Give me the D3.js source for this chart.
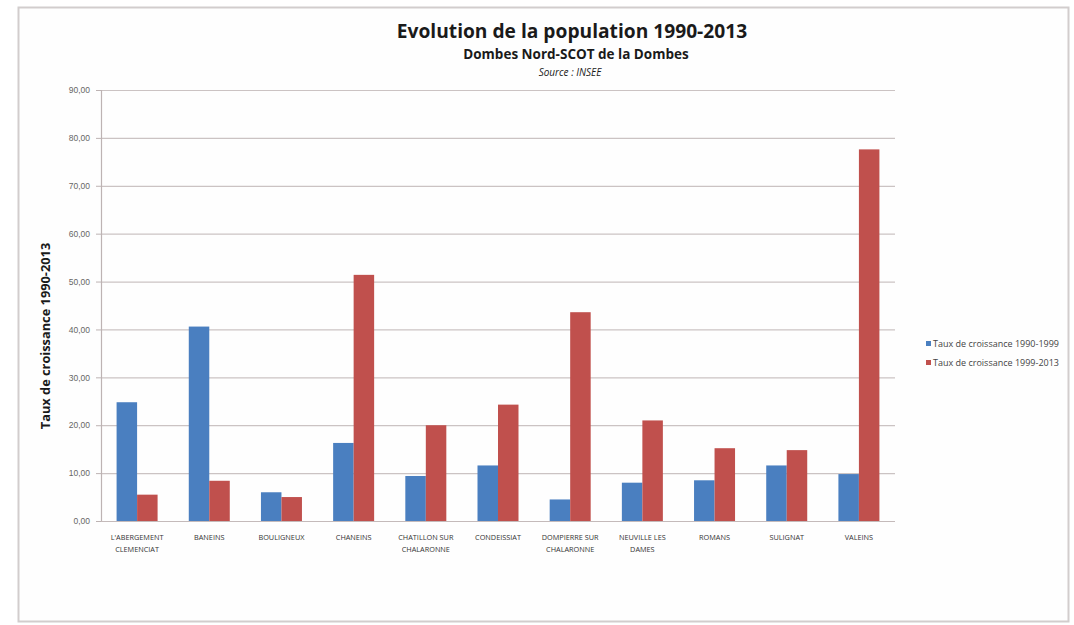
<!DOCTYPE html>
<html>
<head>
<meta charset="utf-8">
<script src="https://cdn.jsdelivr.net/npm/d3@7"></script>
<style>
  body { margin: 0; background: #fff; }
  svg { display: block; font-family: "Open Sans", sans-serif; }
</style>
</head>
<body>
<svg id="chart" width="1074" height="625"></svg>
<script>
const communes = [
  ["L'ABERGEMENT", 'CLEMENCIAT'],
  ['BANEINS'],
  ['BOULIGNEUX'],
  ['CHANEINS'],
  ['CHATILLON SUR', 'CHALARONNE'],
  ['CONDEISSIAT'],
  ['DOMPIERRE SUR', 'CHALARONNE'],
  ['NEUVILLE LES', 'DAMES'],
  ['ROMANS'],
  ['SULIGNAT'],
  ['VALEINS']
];
const taux1990_1999 = [24.8, 40.6, 6.0, 16.3, 9.4, 11.6, 4.5, 8.0, 8.5, 11.6, 9.8];
const taux1999_2013 = [5.5, 8.4, 5.0, 51.4, 20.0, 24.3, 43.6, 21.0, 15.2, 14.8, 77.6];
const seriesNames = ['Taux de croissance 1990-1999', 'Taux de croissance 1999-2013'];
const yTicks = [0, 10, 20, 30, 40, 50, 60, 70, 80, 90];

const colors = ['#4a7fc0', '#c0504d'];
const svg = d3.select('#chart');

// chart frame
svg.append('rect')
  .attr('x', 18.5).attr('y', 7.5)
  .attr('width', 1050).attr('height', 614)
  .attr('fill', '#fefefe')
  .attr('stroke', '#d2cdcd')
  .attr('stroke-width', 2);

const margin = { top: 90, left: 101, right: 179, bottom: 104 };
const width = 1074 - margin.left - margin.right;
const height = 625 - margin.top - margin.bottom;
const g = svg.append('g').attr('transform', `translate(${margin.left},${margin.top})`);

const x0 = d3.scaleBand().domain(d3.range(communes.length)).range([0, width]);
const x1 = d3.scaleBand().domain([0, 1]).range([x0.bandwidth() / 2 - 20.5, x0.bandwidth() / 2 + 20.5]);
const y = d3.scaleLinear().domain([0, 90]).range([height, 0]);

// gridlines
g.append('g')
  .selectAll('line')
  .data(yTicks.slice(1))
  .join('line')
  .attr('x1', 0).attr('x2', width)
  .attr('y1', (d) => y(d) + 0.5).attr('y2', (d) => y(d) + 0.5)
  .attr('stroke', '#cbc3c3')
  .attr('stroke-width', 1.2);

// bars
const data = communes.map((c, i) => [taux1990_1999[i], taux1999_2013[i]]);
g.selectAll('.grp')
  .data(data)
  .join('g')
  .attr('class', 'grp')
  .attr('transform', (d, i) => `translate(${x0(i)},0)`)
  .selectAll('rect')
  .data((d) => d)
  .join('rect')
  .attr('x', (d, j) => x1(j))
  .attr('width', x1.bandwidth())
  .attr('y', (d) => y(d))
  .attr('height', (d) => height - y(d))
  .attr('fill', (d, j) => colors[j]);

// y axis
const yAxis = g.append('g')
  .call(d3.axisLeft(y).tickValues(yTicks).tickSize(5).tickPadding(6)
    .tickFormat((d) => d3.format('.2f')(d).replace('.', ',')));
yAxis.select('.domain').attr('stroke', '#bdb3b3').attr('stroke-width', 1.2);
yAxis.selectAll('.tick line').attr('stroke', '#bdb3b3');
yAxis.selectAll('.tick text')
  .attr('fill', '#666')
  .style('font-size', '8.5px');

// x axis baseline
g.append('line')
  .attr('x1', 0).attr('x2', width)
  .attr('y1', height + 0.5).attr('y2', height + 0.5)
  .attr('stroke', '#c4baba').attr('stroke-width', 1.2);

// x labels
g.selectAll('.xlab')
  .data(communes)
  .join('text')
  .attr('class', 'xlab')
  .attr('x', (d, i) => x0(i) + x0.bandwidth() / 2)
  .attr('y', height + 19)
  .attr('text-anchor', 'middle')
  .attr('fill', '#333')
  .style('font-size', '7.3px')
  .selectAll('tspan')
  .data((d) => d)
  .join('tspan')
  .attr('x', function () { return d3.select(this.parentNode).attr('x'); })
  .attr('dy', (d, k) => (k === 0 ? 0 : 12))
  .text((d) => d);

// titles
svg.append('text')
  .attr('x', 572).attr('y', 38)
  .attr('text-anchor', 'middle')
  .attr('font-weight', 'bold')
  .attr('fill', '#1a1a1a')
  .style('font-size', '19.2px')
  .text('Evolution de la population 1990-2013');

svg.append('text')
  .attr('x', 576).attr('y', 59)
  .attr('text-anchor', 'middle')
  .attr('font-weight', 'bold')
  .attr('fill', '#1a1a1a')
  .style('font-size', '13.5px')
  .text('Dombes Nord-SCOT de la Dombes');

svg.append('text')
  .attr('x', 570).attr('y', 76)
  .attr('text-anchor', 'middle')
  .attr('font-style', 'italic')
  .attr('fill', '#1a1a1a')
  .style('font-size', '10px')
  .text('Source : INSEE');

// y axis title
svg.append('text')
  .attr('transform', 'translate(50,336) rotate(-90)')
  .attr('text-anchor', 'middle')
  .attr('font-weight', 'bold')
  .attr('fill', '#1a1a1a')
  .style('font-size', '12.8px')
  .text('Taux de croissance 1990-2013');

// legend
const legend = svg.append('g').attr('transform', 'translate(926,341)');
legend.selectAll('rect')
  .data(seriesNames)
  .join('rect')
  .attr('x', 0)
  .attr('y', (d, i) => i * 19)
  .attr('width', 5).attr('height', 5)
  .attr('fill', (d, i) => colors[i]);
legend.selectAll('text')
  .data(seriesNames)
  .join('text')
  .attr('x', 7)
  .attr('y', (d, i) => i * 19 + 5.5)
  .attr('fill', '#444')
  .style('font-size', '9px')
  .text((d) => d);
</script>
</body>
</html>
